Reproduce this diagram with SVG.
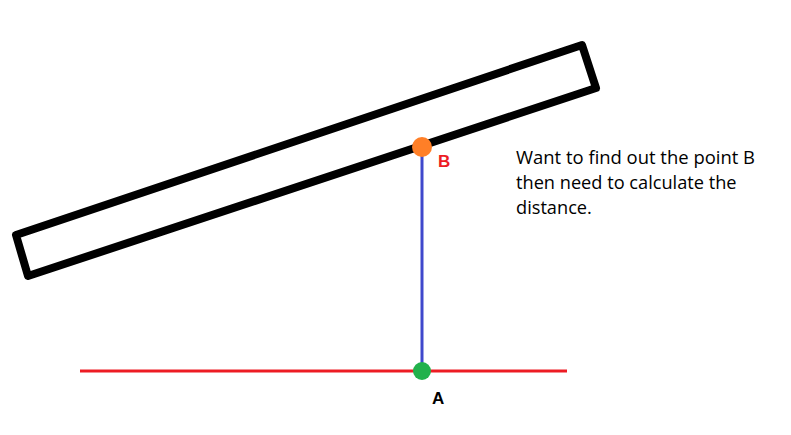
<svg xmlns="http://www.w3.org/2000/svg" width="791" height="435" viewBox="0 0 791 435">
<style>
.lbl{font-family:"Liberation Sans",Arial,sans-serif;font-weight:bold;font-size:17px}
.note{font-family:"Open Sans","Liberation Sans",sans-serif;font-size:18.2px;fill:#000}
</style>
<rect width="791" height="435" fill="#fff"/>
<g id="bar">
<polygon points="16,235 582,45 596,88 28,276" fill="none" stroke="#000" stroke-width="8" stroke-linejoin="round"/>
</g>
<g id="connectors">
<line x1="80" y1="371" x2="567" y2="371" stroke="#ed1c24" stroke-width="3"/>
<line x1="422" y1="147" x2="422" y2="371" stroke="#3f48cc" stroke-width="3"/>
</g>
<g id="pointB">
<circle cx="422" cy="147" r="10" fill="#ff7f27"/>
<text class="lbl" x="438" y="167" fill="#ed1c24">B</text>
</g>
<g id="pointA">
<circle cx="422" cy="371" r="9" fill="#22b14c"/>
<text class="lbl" x="432" y="404" fill="#000">A</text>
</g>
<g id="note">
<text class="note" x="516" y="164" textLength="239" lengthAdjust="spacingAndGlyphs">Want to find out the point B</text>
<text class="note" x="516" y="189">then need to calculate the</text>
<text class="note" x="516" y="214">distance.</text>
</g>
</svg>
